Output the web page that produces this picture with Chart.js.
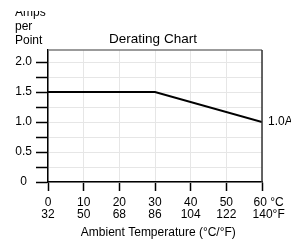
<!DOCTYPE html>
<html><head><meta charset="utf-8">
<script src="https://cdn.jsdelivr.net/npm/chart.js@4"></script>
<style>html,body{margin:0;padding:0;background:#fff}</style>
</head><body>
<canvas id="c" width="291" height="241"></canvas>
<script>
// ---- data ----
const tempC = [0, 30, 60];
const ampsPerPoint = [1.5, 1.5, 1.0];
const celsiusTicks = [0, 10, 20, 30, 40, 50, 60];
const fahrenheitTicks = ['32', '50', '68', '86', '104', '122', '    140°F'];
const celsiusLabels = ['0', '10', '20', '30', '40', '50', '    60 °C'];
const yMajorTicks = [0, 0.5, 1.0, 1.5, 2.0];
const yTickLabels = ['0', '0.5', '1.0', '1.5', '2.0'];
const endLabel = '1.0A';
const chartTitle = 'Derating Chart';
const yTitleLines = ['Amps', 'per', 'Point'];
const xTitle = '  Ambient Temperature (°C/°F)';

const FONT = '"Liberation Sans", Arial, Helvetica, sans-serif';

const deco = {
  id: 'deco',
  afterDatasetsDraw(chart) {
    const {ctx, chartArea: a, scales} = chart;
    ctx.save();
    // top and right frame
    ctx.lineWidth = 1.5;
    ctx.strokeStyle = '#7a7a7a';
    ctx.beginPath(); ctx.moveTo(a.left, a.top); ctx.lineTo(a.right, a.top); ctx.stroke();
    ctx.strokeStyle = '#333';
    ctx.beginPath(); ctx.moveTo(a.right, a.top); ctx.lineTo(a.right, a.bottom); ctx.stroke();
    // end label
    const last = tempC.length - 1;
    ctx.fillStyle = '#000';
    ctx.font = '12px ' + FONT;
    ctx.textBaseline = 'middle';
    ctx.textAlign = 'left';
    ctx.fillText(endLabel, scales.x.getPixelForValue(tempC[last]) + 6, scales.y.getPixelForValue(ampsPerPoint[last]));
    // chart title
    ctx.font = '13.5px ' + FONT;
    ctx.textAlign = 'center';
    ctx.textBaseline = 'alphabetic';
    ctx.fillText(chartTitle, 153, 43);
    // y title (clipped at top like the reference)
    ctx.beginPath(); ctx.rect(0, 11, 100, 60); ctx.clip();
    ctx.font = '12px ' + FONT;
    ctx.textAlign = 'left';
    yTitleLines.forEach((t, i) => ctx.fillText(t, 15, 16 + i * 14));
    ctx.restore();
  }
};

new Chart(document.getElementById('c'), {
  type: 'line',
  data: {
    datasets: [{
      data: tempC.map((x, i) => ({x, y: ampsPerPoint[i]})),
      borderColor: '#000',
      borderWidth: 2,
      pointRadius: 0,
      tension: 0,
      fill: false
    }]
  },
  options: {
    responsive: false,
    animation: false,
    layout: {padding: {top: 50, right: 29, left: 0, bottom: 0}},
    plugins: {legend: {display: false}, tooltip: {enabled: false}, title: {display: false}},
    scales: {
      x: {
        type: 'linear',
        min: 0, max: 60,
        afterBuildTicks(s) { s.ticks = celsiusTicks.map(v => ({value: v})); },
        afterFit(s) { s.height = 59; s.paddingLeft = 0; s.paddingRight = 0; },
        grid: {color: '#e6e6e6', lineWidth: 1, tickLength: 9, tickColor: '#000', tickWidth: 1.5},
        border: {color: '#000', width: 1.5},
        ticks: {
          maxRotation: 0, autoSkip: false, padding: 6, color: '#000',
          font: {family: FONT, size: 12, lineHeight: 1},
          callback(v) {
            const i = celsiusTicks.indexOf(v);
            return [celsiusLabels[i], fahrenheitTicks[i]];
          }
        },
        title: {display: true, text: xTitle, color: '#000', font: {family: FONT, size: 12}, padding: {top: 2, bottom: 1}}
      },
      y: {
        min: 0, max: 2.2,
        afterBuildTicks(s) {
          const t = [];
          for (let i = 0; i <= 8; i++) t.push({value: i * 0.25});
          s.ticks = t;
        },
        afterFit(s) { s.width = 48; s.paddingTop = 0; s.paddingBottom = 0; },
        grid: {color: '#e6e6e6', lineWidth: 1, tickLength: 12, tickColor: '#000', tickWidth: 1.5},
        border: {color: '#000', width: 1.5},
        ticks: {
          autoSkip: false, padding: 4, color: '#000', crossAlign: 'center',
          font: {family: FONT, size: 12},
          callback(v) {
            const i = yMajorTicks.findIndex(m => Math.abs(m - v) < 1e-9);
            return i >= 0 ? yTickLabels[i] : '';
          }
        }
      }
    }
  },
  plugins: [deco]
});
</script>
</body></html>
